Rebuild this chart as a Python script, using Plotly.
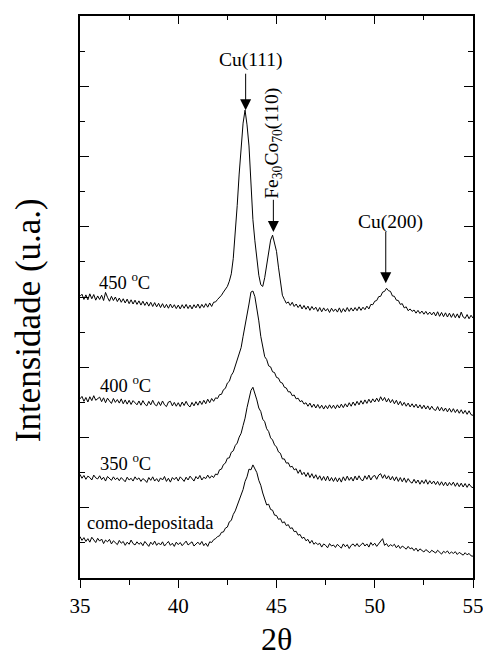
import numpy as np
import plotly.graph_objects as go

# 2-theta grid (degrees), 0.1 deg step from 35 to 55
two_theta = np.round(np.arange(35.0, 55.0001, 0.1), 1)

# Offset XRD intensities (arbitrary units), one value per grid point
como_depositada = [
    1.18, 1.07, 1.15, 1.04, 1.12, 1.02, 1.16, 1.09, 1.01, 1.13,
    1.05, 1.11, 0.98, 1.08, 1.03, 1.10, 0.97, 1.06, 1.01, 0.95,
    1.07, 0.99, 1.04, 0.93, 1.02, 0.96, 1.08, 0.98, 0.94, 1.03,
    0.96, 1.01, 0.92, 1.04, 0.97, 0.90, 1.02, 0.95, 1.05, 0.93,
    1.00, 0.94, 1.03, 0.91, 0.98, 1.04, 0.93, 0.99, 0.90, 1.02,
    0.95, 1.01, 0.92, 0.98, 1.05, 0.94, 0.99, 1.03, 0.91, 0.97,
    1.02, 0.95, 1.04, 0.92, 0.99, 0.90, 1.03, 1.01, 1.09, 1.12,
    1.18, 1.20, 1.30, 1.31, 1.42, 1.45, 1.60, 1.64, 1.81, 1.91,
    2.07, 2.18, 2.38, 2.52, 2.75, 2.88, 3.10, 3.08, 3.22, 3.11,
    3.00, 2.78, 2.64, 2.42, 2.25, 2.08, 2.10, 1.95, 1.93, 1.79,
    1.78, 1.67, 1.69, 1.57, 1.60, 1.49, 1.52, 1.41, 1.43, 1.32,
    1.33, 1.22, 1.24, 1.13, 1.16, 1.06, 1.10, 0.99, 1.07, 0.96,
    1.01, 0.95, 0.99, 0.88, 0.97, 0.93, 0.86, 0.98, 0.91, 0.94,
    0.87, 0.96, 0.90, 0.85, 0.97, 0.89, 0.95, 0.84, 0.93, 0.97,
    0.90, 0.98, 0.89, 0.96, 1.00, 0.91, 0.97, 0.88, 1.01, 0.93,
    0.99, 0.90, 0.97, 1.02, 1.12, 0.93, 0.98, 0.89, 0.95, 0.91,
    0.96, 0.86, 0.93, 0.84, 0.91, 0.87, 0.82, 0.90, 0.83, 0.86,
    0.78, 0.85, 0.76, 0.83, 0.79, 0.74, 0.81, 0.77, 0.72, 0.79,
    0.75, 0.71, 0.79, 0.73, 0.68, 0.76, 0.72, 0.77, 0.69, 0.74,
    0.70, 0.75, 0.67, 0.73, 0.69, 0.65, 0.72, 0.66, 0.70, 0.63,
    0.62,
]

t350 = [
    2.95, 2.84, 2.92, 2.81, 2.90, 2.86, 2.79, 2.93, 2.85, 2.82,
    2.91, 2.80, 2.87, 2.76, 2.89, 2.83, 2.78, 2.88, 2.80, 2.85,
    2.77, 2.86, 2.81, 2.74, 2.87, 2.79, 2.84, 2.76, 2.88, 2.80,
    2.85, 2.75, 2.83, 2.79, 2.72, 2.86, 2.78, 2.88, 2.76, 2.83,
    2.74, 2.85, 2.79, 2.89, 2.75, 2.84, 2.73, 2.86, 2.80, 2.87,
    2.76, 2.88, 2.82, 2.75, 2.87, 2.79, 2.90, 2.81, 2.76, 2.89,
    2.82, 2.92, 2.79, 2.87, 2.83, 2.93, 2.84, 2.91, 2.86, 2.96,
    2.94, 3.08, 3.10, 3.23, 3.27, 3.41, 3.42, 3.58, 3.62, 3.77,
    3.84, 4.01, 4.12, 4.34, 4.55, 4.85, 5.14, 5.34, 5.43, 5.28,
    5.07, 4.84, 4.74, 4.52, 4.45, 4.25, 4.17, 3.99, 3.93, 3.79,
    3.73, 3.59, 3.55, 3.39, 3.39, 3.27, 3.28, 3.16, 3.18, 3.08,
    3.11, 2.98, 3.08, 2.94, 3.01, 2.89, 3.00, 2.86, 2.97, 2.84,
    2.94, 2.81, 2.91, 2.78, 2.89, 2.77, 2.90, 2.76, 2.86, 2.75,
    2.86, 2.74, 2.85, 2.73, 2.88, 2.77, 2.90, 2.78, 2.87, 2.76,
    2.90, 2.79, 2.91, 2.80, 2.77, 2.91, 2.81, 2.93, 2.79, 2.89,
    2.92, 2.81, 2.93, 2.97, 2.84, 2.94, 2.82, 2.91, 2.79, 2.89,
    2.77, 2.88, 2.75, 2.86, 2.74, 2.85, 2.72, 2.83, 2.74, 2.70,
    2.81, 2.70, 2.79, 2.67, 2.78, 2.69, 2.80, 2.67, 2.77, 2.68,
    2.76, 2.66, 2.75, 2.64, 2.74, 2.63, 2.73, 2.62, 2.72, 2.64,
    2.73, 2.61, 2.71, 2.60, 2.70, 2.59, 2.69, 2.58, 2.68, 2.60,
    2.57,
]

t400 = [
    5.10, 5.17, 5.03, 5.14, 5.01, 5.16, 5.05, 5.19, 5.06, 5.12,
    5.15, 5.02, 5.13, 4.99, 5.12, 5.04, 4.97, 5.11, 5.00, 5.08,
    4.98, 5.10, 4.96, 5.07, 4.95, 5.06, 4.94, 5.05, 4.99, 4.93,
    5.04, 4.92, 5.05, 4.95, 4.90, 5.03, 4.93, 5.06, 4.94, 4.90,
    5.02, 4.91, 5.04, 4.93, 4.88, 5.01, 5.03, 4.90, 5.00, 4.89,
    4.99, 4.88, 5.01, 4.91, 5.03, 4.92, 4.87, 5.00, 4.90, 5.02,
    4.92, 5.04, 4.94, 5.06, 4.96, 5.09, 4.99, 5.11, 5.03, 5.13,
    5.11, 5.22, 5.23, 5.36, 5.40, 5.55, 5.60, 5.77, 5.86, 6.05,
    6.18, 6.39, 6.56, 6.88, 7.16, 7.52, 7.80, 8.14, 8.17, 8.01,
    7.70, 7.32, 6.88, 6.57, 6.30, 6.22, 6.04, 6.01, 5.87, 5.85,
    5.71, 5.69, 5.57, 5.55, 5.43, 5.41, 5.30, 5.30, 5.19, 5.21,
    5.10, 5.12, 5.02, 5.05, 4.95, 4.99, 4.89, 4.98, 4.86, 4.95,
    4.84, 4.94, 4.83, 4.92, 4.81, 4.91, 4.82, 4.93, 4.83, 4.92,
    4.82, 4.93, 4.84, 4.95, 4.85, 4.96, 4.87, 4.99, 4.89, 5.01,
    4.91, 5.03, 4.93, 5.05, 4.95, 5.07, 4.97, 5.09, 4.99, 5.10,
    5.01, 5.12, 5.02, 5.16, 5.05, 5.14, 5.01, 5.11, 4.99, 5.08,
    4.96, 5.06, 4.93, 5.03, 4.91, 5.00, 4.89, 4.98, 4.87, 4.96,
    4.86, 4.95, 4.84, 4.93, 4.82, 4.92, 4.81, 4.90, 4.79, 4.89,
    4.80, 4.77, 4.88, 4.76, 4.86, 4.75, 4.84, 4.73, 4.83, 4.72,
    4.82, 4.71, 4.80, 4.69, 4.79, 4.68, 4.77, 4.66, 4.76, 4.65,
    4.63,
]

t450 = [
    8.02, 8.08, 7.93, 8.06, 7.92, 8.09, 7.95, 8.07, 7.91, 8.03,
    7.93, 8.05, 7.90, 8.13, 7.99, 7.88, 8.02, 7.90, 8.00, 7.87,
    7.97, 7.85, 7.95, 7.83, 7.94, 7.81, 7.92, 7.80, 7.91, 7.79,
    7.89, 7.77, 7.88, 7.76, 7.86, 7.74, 7.85, 7.73, 7.84, 7.72,
    7.82, 7.70, 7.81, 7.69, 7.79, 7.68, 7.80, 7.69, 7.78, 7.67,
    7.77, 7.66, 7.78, 7.68, 7.79, 7.67, 7.77, 7.66, 7.78, 7.69,
    7.80, 7.68, 7.79, 7.70, 7.81, 7.71, 7.83, 7.73, 7.85, 7.86,
    7.93, 7.98, 8.05, 8.14, 8.22, 8.30, 8.45, 8.66, 9.10, 9.75,
    10.60, 11.50, 12.30, 12.95, 13.32, 12.90, 12.30, 11.30, 10.20, 9.60,
    9.00, 8.62, 8.35, 8.30, 8.55, 8.95, 9.30, 9.62, 9.76, 9.55,
    9.30, 8.85, 8.45, 8.05, 7.93, 7.82, 7.86, 7.76, 7.85, 7.73,
    7.80, 7.70, 7.78, 7.66, 7.76, 7.65, 7.74, 7.62, 7.73, 7.64,
    7.71, 7.59, 7.70, 7.58, 7.69, 7.60, 7.67, 7.56, 7.68, 7.59,
    7.66, 7.57, 7.69, 7.56, 7.67, 7.58, 7.70, 7.59, 7.69, 7.60,
    7.70, 7.61, 7.72, 7.62, 7.71, 7.64, 7.74, 7.66, 7.79, 7.78,
    7.88, 7.90, 8.01, 8.02, 8.14, 8.16, 8.25, 8.18, 8.16, 8.03,
    8.02, 7.91, 7.90, 7.79, 7.81, 7.69, 7.72, 7.61, 7.66, 7.59,
    7.63, 7.54, 7.62, 7.53, 7.60, 7.51, 7.59, 7.50, 7.57, 7.49,
    7.57, 7.46, 7.58, 7.45, 7.56, 7.44, 7.55, 7.43, 7.54, 7.42,
    7.53, 7.41, 7.52, 7.40, 7.57, 7.43, 7.39, 7.50, 7.38, 7.48,
    7.40,
]

curves = [como_depositada, t350, t400, t450]

# Curve labels: (text, x, y)
curve_labels = [
    ("como-depositada", 35.25, 1.56),
    ("350 <sup>o</sup>C", 35.92, 3.30),
    ("400 <sup>o</sup>C", 35.92, 5.52),
    ("450 <sup>o</sup>C", 35.87, 8.45),
]

# Peak indexing: (text, text x, text y, arrow x, arrow tail y, arrow tip y, angle)
peaks = [
    ("Cu(111)", 43.70, 14.74, 43.43, 14.40, 13.32, 0),
    ("Fe<sub>30</sub>Co<sub>70</sub>(110)", 44.82, 12.39, 44.84, 10.81, 9.85, -90),
    ("Cu(200)", 50.78, 10.14, 50.56, 9.90, 8.39, 0),
]

SERIF = "Liberation Serif"

fig = go.Figure()
for ys in curves:
    fig.add_trace(go.Scatter(
        x=two_theta, y=ys, mode="lines",
        line=dict(color="black", width=1),
        showlegend=False, hoverinfo="skip",
    ))

# empty trace so the top (mirror) x axis is drawn
fig.add_trace(go.Scatter(x=[35, 55], y=[None, None], xaxis="x2",
                         mode="lines", showlegend=False, hoverinfo="skip"))

annotations = []
for text, x, y in curve_labels:
    annotations.append(dict(
        x=x, y=y, xref="x", yref="y", text=text, showarrow=False,
        xanchor="left", yanchor="middle",
        font=dict(family=SERIF, size=18.5, color="black"),
    ))

for text, tx, ty, ax_, tail, tip, ang in peaks:
    annotations.append(dict(
        x=tx, y=ty, xref="x", yref="y", text=text, showarrow=False,
        xanchor="center", yanchor="middle", textangle=ang,
        font=dict(family=SERIF, size=19.5, color="black"),
    ))
    annotations.append(dict(
        x=ax_, y=tip, xref="x", yref="y", ax=ax_, ay=tail,
        axref="x", ayref="y", text="", showarrow=True,
        arrowhead=2, arrowsize=2.2, arrowwidth=1, arrowcolor="black",
        standoff=0, startstandoff=0,
    ))

# axis titles
annotations.append(dict(
    x=0.501, y=-0.1435, xref="paper", yref="paper", text="2θ",
    showarrow=False, xanchor="center", yanchor="bottom",
    font=dict(family=SERIF, size=32, color="black"),
))
annotations.append(dict(
    x=-0.132, y=0.459, xref="paper", yref="paper", text="Intensidade (u.a.)",
    showarrow=False, xanchor="center", yanchor="middle", textangle=-90,
    font=dict(family=SERIF, size=35, color="black"),
))

fig.update_layout(
    width=483, height=660,
    margin=dict(l=80, r=10, t=16, b=82, autoexpand=False),
    paper_bgcolor="white", plot_bgcolor="white",
    font=dict(family=SERIF, color="black"),
    annotations=annotations,
    xaxis=dict(
        range=[35, 55], autorange=False, automargin=False,
        tickmode="array", tickvals=[35, 40, 45, 50, 55],
        ticks="outside", ticklen=8, tickwidth=1.2, tickcolor="black",
        ticklabeloverflow="allow",
        minor=dict(dtick=2.5, tick0=35, ticks="outside", ticklen=5,
                   tickwidth=1.2, tickcolor="black", showgrid=False),
        showline=True, linewidth=1.5, linecolor="black",
        showgrid=False, zeroline=False,
        tickfont=dict(family=SERIF, size=21, color="black"),
    ),
    xaxis2=dict(
        overlaying="x", side="top", anchor="y", matches="x",
        range=[35, 55], autorange=False, automargin=False,
        tickmode="array", tickvals=[35, 40, 45, 50, 55],
        ticks="inside", ticklen=8, tickwidth=1.2, tickcolor="black",
        minor=dict(dtick=2.5, tick0=35, ticks="inside", ticklen=4.5,
                   tickwidth=1.2, tickcolor="black", showgrid=False),
        showline=True, linewidth=1.5, linecolor="black",
        showticklabels=False, showgrid=False, zeroline=False,
    ),
    yaxis=dict(
        range=[0, 16], autorange=False, automargin=False,
        tickmode="array", tickvals=list(range(0, 17, 2)),
        ticks="inside", ticklen=9, tickwidth=1.2, tickcolor="black",
        minor=dict(dtick=1, tick0=0, ticks="inside", ticklen=5.5,
                   tickwidth=1.2, tickcolor="black", showgrid=False),
        showline=True, linewidth=1.5, linecolor="black", mirror="ticks",
        showticklabels=False, showgrid=False, zeroline=False,
    ),
)

fig.write_html("out.html")
